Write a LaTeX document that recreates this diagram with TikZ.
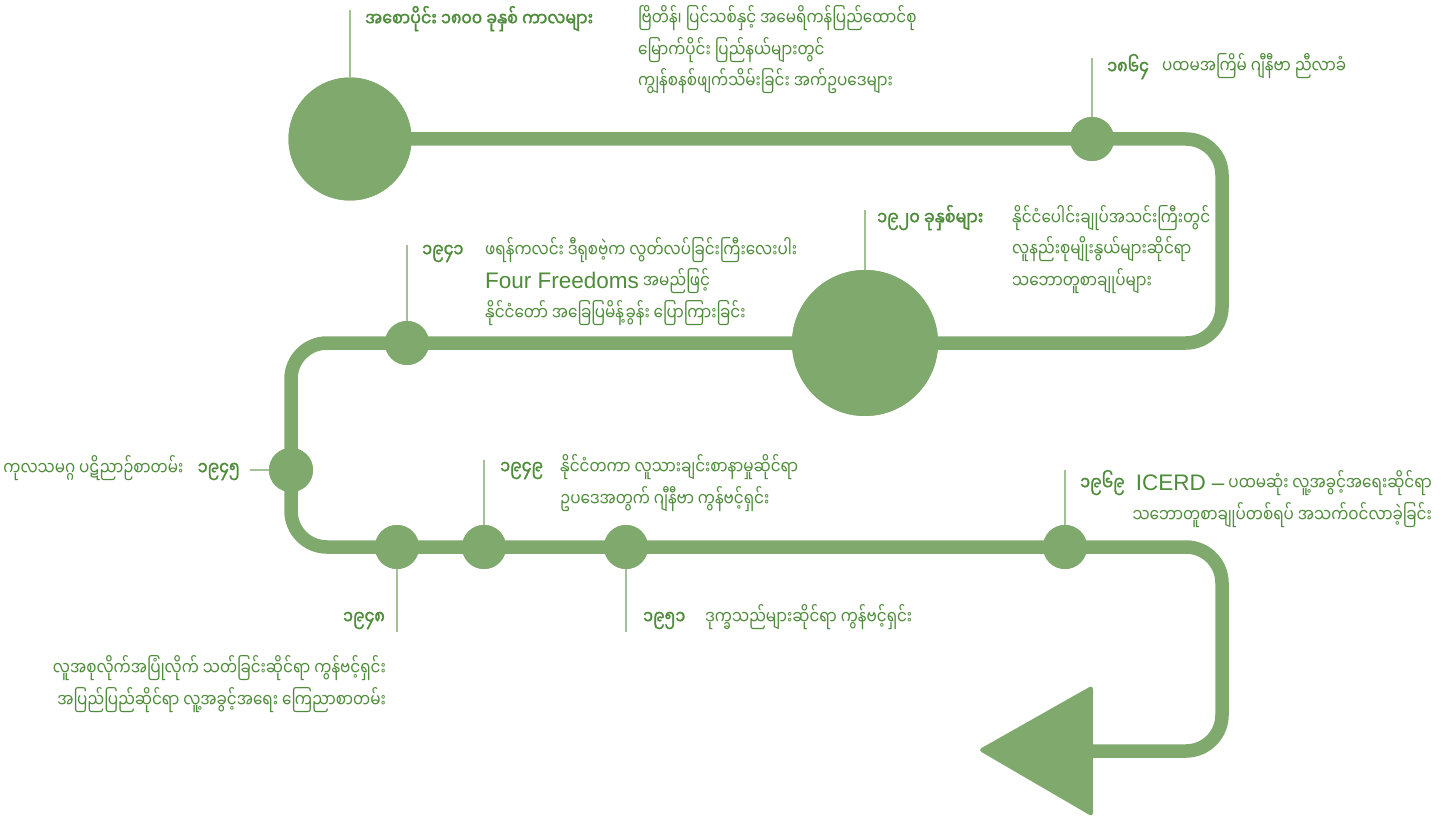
\documentclass[tikz,border=0pt]{standalone}
\usepackage{fontspec}
\newfontfamily\mm[Script=Myanmar,FakeStretch=0.80]{Noto Sans Myanmar UI}
\newfontfamily\mmb[Script=Myanmar,FakeStretch=0.84,FakeBold=1.6]{Noto Sans Myanmar UI}
\newfontfamily\lat{Liberation Sans}
\newcommand{\latw}[1]{{\lat\fontsize{22.5}{31.5}\selectfont #1}}
\definecolor{gr}{HTML}{80A96E}
\definecolor{tk}{HTML}{A3C293}
\definecolor{tx}{HTML}{4E8B3A}
\tikzset{
  track/.style={draw=gr, line width=13.5pt, rounded corners=36pt},
  dot/.style={circle, fill=gr, inner sep=0pt, minimum size=#1},
  tick/.style={draw=tk, line width=1.5pt},
  yr/.style={text=tx, font={\mmb\fontsize{19}{31.5}\selectfont}, inner sep=0pt},
  lbl/.style={text=tx, font={\mm\fontsize{19}{31.5}\selectfont}, inner sep=0pt, align=left},
  lblr/.style={lbl, align=right},
}
\begin{document}
\begin{tikzpicture}[x=1pt,y=-1pt]
\useasboundingbox (0,0) rectangle (1450,821);
% dots (named)
\node[dot=123pt] (n1) at (350,139) {};
\node[dot=44pt] (n2) at (1092,139) {};
\node[dot=146pt] (n3) at (865,343) {};
\node[dot=44pt] (n4) at (407,343) {};
\node[dot=44pt] (n5) at (291,470) {};
\node[dot=44pt] (n6) at (397,547) {};
\node[dot=44pt] (n7) at (484,547) {};
\node[dot=44pt] (n8) at (626,547) {};
\node[dot=44pt] (n9) at (1065,547) {};
% track
\coordinate (arrowbase) at (1093,751);
\draw[track] (n1.center) -- (1222,139) -- (1222,343) -- (291,343) -- (291,547) -- (1222,547) -- (1222,751) -- (arrowbase);
\fill[gr, rounded corners=4pt] (978,750) -- (1093,685) -- (1093,817) -- cycle;
% dots on top of the track
\foreach \n/\s in {n1/123pt,n2/44pt,n3/146pt,n4/44pt,n5/44pt,n6/44pt,n7/44pt,n8/44pt,n9/44pt}
  \node[dot=\s] at (\n) {};
% ticks
\coordinate (t1) at (350,10);
\coordinate (t2) at (1092,58);
\coordinate (t3) at (865,210);
\coordinate (t4) at (407,245);
\coordinate (t5) at (250,470);
\coordinate (t6) at (397,632);
\coordinate (t7) at (484,460);
\coordinate (t8) at (626,632);
\coordinate (t9) at (1065,470);
\draw[tick] (n1.north) -- (t1);
\draw[tick] (n2.north) -- (t2);
\draw[tick] (n3.north) -- (t3);
\draw[tick] (n4.north) -- (t4);
\draw[tick] (n5.west) -- (t5);
\draw[tick] (n6.south) -- (t6);
\draw[tick] (n7.north) -- (t7);
\draw[tick] (n8.south) -- (t8);
\draw[tick] (n9.north) -- (t9);
% labels (multi-line nodes: base = last line's baseline)
\node[yr, anchor=base west] (y1) at (365,26) {အစောပိုင်း ၁၈၀၀ ခုနှစ် ကာလများ};
\node[lbl, anchor=base west] (d1) at (638,89) {ဗြိတိန်၊ ပြင်သစ်နှင့် အမေရိကန်ပြည်ထောင်စု\\မြောက်ပိုင်း ပြည်နယ်များတွင်\\ကျွန်စနစ်ဖျက်သိမ်းခြင်း အက်ဥပဒေများ};
\node[yr, anchor=base west] (y2) at (1107,74) {၁၈၆၄};
\node[lbl, anchor=base west] (d2) at (1162,74) {ပထမအကြိမ် ဂျီနီဗာ ညီလာခံ};
\node[yr, anchor=base west] (y3) at (877,225) {၁၉၂၀ ခုနှစ်များ};
\node[lbl, anchor=base west] (d3) at (1012,288) {နိုင်ငံပေါင်းချုပ်အသင်းကြီးတွင်\\လူနည်းစုမျိုးနွယ်များဆိုင်ရာ\\သဘောတူစာချုပ်များ};
\node[yr, anchor=base west] (y4) at (422,257) {၁၉၄၁};
\node[lbl, anchor=base west] (d4) at (485,320) {ဖရန်ကလင်း ဒီရုစဗဲ့က လွတ်လပ်ခြင်းကြီးလေးပါး\\\latw{Four Freedoms} အမည်ဖြင့်\\နိုင်ငံတော် အခြေပြမိန့်ခွန်း ပြောကြားခြင်း};
\node[yr, anchor=base east] (y5) at (240,475) {၁၉၄၅};
\node[lbl, anchor=base east] (d5) at ([xshift=-14pt]y5.base west) {ကုလသမဂ္ဂ ပဋိညာဉ်စာတမ်း};
\node[yr, anchor=base west] (y7) at (500,474) {၁၉၄၉};
\node[lbl, anchor=base west] (d7) at (560,506) {နိုင်ငံတကာ လူသားချင်းစာနာမှုဆိုင်ရာ\\ဥပဒေအတွက် ဂျီနီဗာ ကွန်ဗင့်ရှင်း};
\node[yr, anchor=base west] (y9) at (1080,490) {၁၉၆၉};
\node[lblr, anchor=base east] (d9) at (1432,522) {\latw{ICERD –} ပထမဆုံး လူ့အခွင့်အရေးဆိုင်ရာ\\သဘောတူစာချုပ်တစ်ရပ် အသက်ဝင်လာခဲ့ခြင်း};
\node[yr, anchor=base east] (y6) at (385,624) {၁၉၄၈};
\node[lblr, anchor=base east] (d6) at (386,707) {လူအစုလိုက်အပြုံလိုက် သတ်ခြင်းဆိုင်ရာ ကွန်ဗင့်ရှင်း\\အပြည်ပြည်ဆိုင်ရာ လူ့အခွင့်အရေး ကြေညာစာတမ်း};
\node[yr, anchor=base west] (y8) at (643,624) {၁၉၅၁};
\node[lbl, anchor=base west] (d8) at (705,624) {ဒုက္ခသည်များဆိုင်ရာ ကွန်ဗင့်ရှင်း};
\end{tikzpicture}
\end{document}
